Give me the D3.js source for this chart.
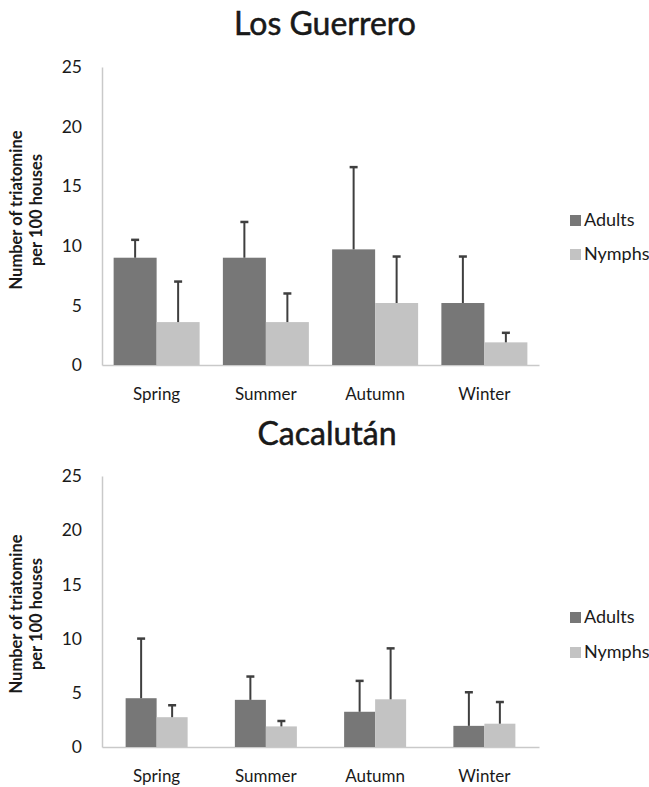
<!DOCTYPE html>
<html>
<head>
<meta charset="utf-8">
<script src="https://cdn.jsdelivr.net/npm/d3@7"></script>
<style>
  html, body { margin: 0; padding: 0; background: #fff; }
  svg { display: block; }
  text { font-family: Lato, "Open Sans", sans-serif; fill: #1a1a1a; }
</style>
</head>
<body>
<script>
// ---------- data ----------
const seasons = ["Spring", "Summer", "Autumn", "Winter"];
const seriesNames = ["Adults", "Nymphs"];
const yTicks = [0, 5, 10, 15, 20, 25];

const titleLG = "Los Guerrero";
const adultsLG = [9.0, 9.0, 9.7, 5.2];
const adultsErrLG = [1.5, 3.0, 6.9, 3.9];
const nymphsLG = [3.6, 3.6, 5.2, 1.9];
const nymphsErrLG = [3.4, 2.4, 3.9, 0.8];

const titleCA = "Cacalután";
const adultsCA = [4.5, 4.35, 3.25, 1.95];
const adultsErrCA = [5.5, 2.15, 2.85, 3.1];
const nymphsCA = [2.75, 1.9, 4.4, 2.15];
const nymphsErrCA = [1.1, 0.5, 4.7, 2.0];

const yLabelLines = ["Number of triatomine", "per 100 houses"];
const colors = { Adults: "#777777", Nymphs: "#c3c3c3" };

// ---------- drawing ----------
const W = 649, H = 787;
const svg = d3.select("body").append("svg").attr("width", W).attr("height", H);
svg.append("rect").attr("width", W).attr("height", H).attr("fill", "#fff");

function panel(cfg) {
  const g = svg.append("g");
  const x = d3.scaleBand().domain(seasons).range([cfg.x0, cfg.x1])
    .paddingInner(cfg.pad).paddingOuter(cfg.pad / 2);
  const xs = d3.scaleBand().domain(seriesNames).range([0, x.bandwidth()]);
  const y = d3.scaleLinear().domain([0, 25]).range([cfg.yBottom, cfg.yTop]);

  // title
  g.append("text").attr("x", cfg.titleX).attr("y", cfg.titleY)
    .attr("text-anchor", "middle").attr("font-size", 32).attr("font-weight", 400)
    .attr("fill", "#111").attr("stroke", "#111").attr("stroke-width", 0.5)
    .text(cfg.title);

  // y axis (line + tick labels, no tick marks)
  const ya = g.append("g").attr("transform", `translate(${cfg.x0},0)`)
    .call(d3.axisLeft(y).tickValues(yTicks).tickSize(0).tickPadding(20));
  ya.select(".domain").attr("stroke", "#c9c9c9").attr("stroke-width", 1.5);
  ya.selectAll("text").attr("font-size", 17.5).attr("fill", "#1a1a1a")
    .attr("font-family", "Lato, sans-serif");

  // x axis
  const xa = g.append("g").attr("transform", `translate(0,${cfg.yBottom})`)
    .call(d3.axisBottom(x).tickSize(0).tickPadding(23));
  xa.select(".domain").attr("stroke", "#c9c9c9").attr("stroke-width", 1.5);
  xa.selectAll("text").attr("font-size", 17).attr("fill", "#1a1a1a")
    .attr("font-family", "Lato, sans-serif");

  // y label
  const yl = g.append("text")
    .attr("transform", `translate(${cfg.ylX},${cfg.ylY}) rotate(-90)`)
    .attr("text-anchor", "middle").attr("font-size", 16.5).attr("font-weight", 700);
  yLabelLines.forEach((s, i) => {
    yl.append("tspan").attr("x", 0).attr("dy", i === 0 ? 0 : 20).text(s);
  });

  // bars
  const series = [
    { name: "Adults", vals: cfg.adults, errs: cfg.adultsErr },
    { name: "Nymphs", vals: cfg.nymphs, errs: cfg.nymphsErr }
  ];
  series.forEach(s => {
    const sg = g.append("g");
    const data = seasons.map((c, i) => ({ c, v: s.vals[i], e: s.errs[i] }));
    sg.selectAll("rect").data(data).join("rect")
      .attr("x", d => x(d.c) + xs(s.name))
      .attr("width", xs.bandwidth())
      .attr("y", d => y(d.v))
      .attr("height", d => y(0) - y(d.v))
      .attr("fill", colors[s.name]);
    // error bars (upper only)
    const cx = d => x(d.c) + xs(s.name) + xs.bandwidth() / 2;
    sg.selectAll("line.err").data(data).join("line").attr("class", "err")
      .attr("x1", cx).attr("x2", cx)
      .attr("y1", d => y(d.v)).attr("y2", d => y(d.v + d.e))
      .attr("stroke", "#3f3f3f").attr("stroke-width", 2);
    sg.selectAll("line.cap").data(data).join("line").attr("class", "cap")
      .attr("x1", d => cx(d) - 4).attr("x2", d => cx(d) + 4)
      .attr("y1", d => y(d.v + d.e)).attr("y2", d => y(d.v + d.e))
      .attr("stroke", "#3f3f3f").attr("stroke-width", 2.5);
  });

  // legend
  const lg = g.append("g");
  seriesNames.forEach((n, i) => {
    const ly = cfg.legY + i * cfg.legGap;
    lg.append("rect").attr("x", 570).attr("y", ly - 11).attr("width", 11).attr("height", 11)
      .attr("fill", colors[n]);
    lg.append("text").attr("x", 584).attr("y", ly).attr("font-size", 18).text(n);
  });
}

panel({
  title: titleLG, titleX: 325, titleY: 35,
  x0: 102, x1: 539, pad: 1 - 86 / 109.25,
  yBottom: 365, yTop: 67,
  ylX: 22, ylY: 210,
  adults: adultsLG, adultsErr: adultsErrLG, nymphs: nymphsLG, nymphsErr: nymphsErrLG,
  legY: 226, legGap: 34
});

panel({
  title: titleCA, titleX: 327, titleY: 445,
  x0: 102, x1: 539, pad: 1 - 62 / 109.25,
  yBottom: 747, yTop: 476,
  ylX: 22, ylY: 614,
  adults: adultsCA, adultsErr: adultsErrCA, nymphs: nymphsCA, nymphsErr: nymphsErrCA,
  legY: 623, legGap: 35
});
</script>
</body>
</html>
